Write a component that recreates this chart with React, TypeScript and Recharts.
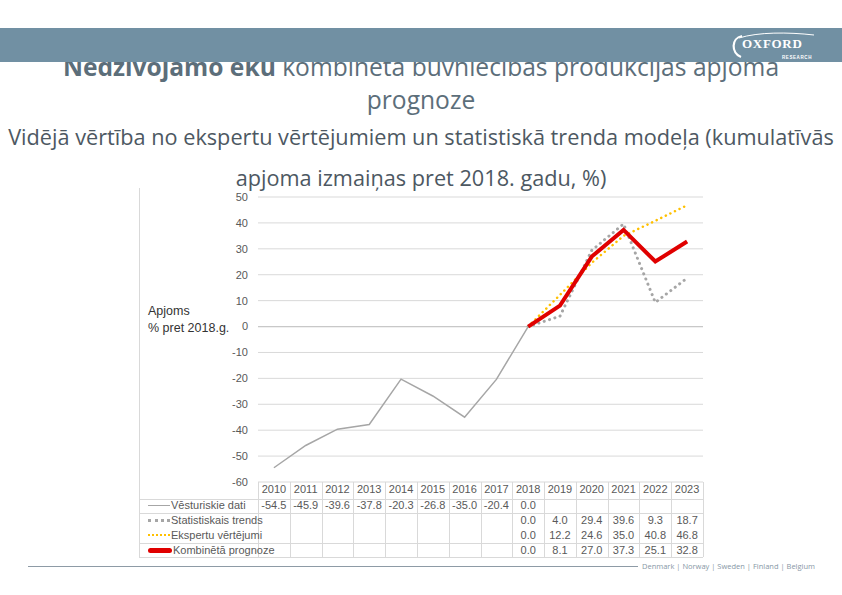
import { CartesianGrid, Line, LineChart, ReferenceLine, XAxis, YAxis } from "recharts";

const years = ["2010", "2011", "2012", "2013", "2014", "2015", "2016", "2017", "2018", "2019", "2020", "2021", "2022", "2023"];
const historical = [-54.5, -45.9, -39.6, -37.8, -20.3, -26.8, -35.0, -20.4, 0.0, null, null, null, null, null];
const statTrend = [null, null, null, null, null, null, null, null, 0.0, 4.0, 29.4, 39.6, 9.3, 18.7];
const expert = [null, null, null, null, null, null, null, null, 0.0, 12.2, 24.6, 35.0, 40.8, 46.8];
const combined = [null, null, null, null, null, null, null, null, 0.0, 8.1, 27.0, 37.3, 25.1, 32.8];
const yTicks = [-60, -50, -40, -30, -20, -10, 0, 10, 20, 30, 40, 50];
const seriesNames = ["Vēsturiskie dati", "Statistiskais trends", "Ekspertu vērtējumi", "Kombinētā prognoze"];
const countries = ["Denmark", "Norway", "Sweden", "Finland", "Belgium"];

const data = years.map((year, i) => ({
  year,
  historical: historical[i],
  statTrend: statTrend[i],
  expert: expert[i],
  combined: combined[i],
}));

// plot geometry (page coordinates)
const PLOT_LEFT = 258;
const PLOT_RIGHT = 703;
const PLOT_TOP = 197;
const PLOT_BOTTOM = 482;
const COL_W = (PLOT_RIGHT - PLOT_LEFT) / years.length;
const CHART_TOP = 180;
const CHART_H = 320;
const AXIS_W = 40;

const GRID = "#d9d9d9";
const TEXT = "#595959";
const ARIAL = "'Liberation Sans', Arial, sans-serif";
const HUMANIST = "'Open Sans', 'Noto Sans', sans-serif";

const rows = [
  { name: seriesNames[0], values: historical, swatch: { borderTop: "1.5px solid #a6a6a6", width: 22 } },
  { name: seriesNames[1], values: statTrend, swatch: { borderTop: "3px dotted #a6a6a6", width: 22 } },
  { name: seriesNames[2], values: expert, swatch: { borderTop: "2px dotted #ffc000", width: 22 } },
  { name: seriesNames[3], values: combined, swatch: { borderTop: "5px solid #e00000", width: 24, borderRadius: 3 } },
];
const rowCenters = [505, 520, 535, 550];
const hLines = [499, 513, 543, 557];

function DataTable() {
  return (
    <>
      {/* frame + row lines */}
      <div style={{ position: "absolute", left: 139, top: 188, width: 1, height: 369, background: GRID }} />
      {hLines.map((y) => (
        <div key={y} style={{ position: "absolute", left: 139, top: y, width: PLOT_RIGHT - 139, height: 1, background: GRID }} />
      ))}
      {years.map((_, i) => (
        <div
          key={"v" + i}
          style={{ position: "absolute", left: PLOT_LEFT + i * COL_W, top: PLOT_BOTTOM, width: 1, height: 557 - PLOT_BOTTOM, background: GRID }}
        />
      ))}
      <div style={{ position: "absolute", left: PLOT_RIGHT, top: PLOT_BOTTOM, width: 1, height: 557 - PLOT_BOTTOM, background: GRID }} />
      {years.map((y, i) => (
        <div
          key={y}
          style={{
            position: "absolute",
            left: PLOT_LEFT + i * COL_W,
            width: COL_W,
            top: 489 - 7,
            lineHeight: "14px",
            textAlign: "center",
            fontSize: 11,
            color: TEXT,
            fontFamily: ARIAL,
          }}
        >
          {y}
        </div>
      ))}
      {rows.map((row, r) => (
        <div key={row.name}>
          <div
            style={{
              position: "absolute",
              left: 148,
              top: rowCenters[r] - 7,
              height: 14,
              display: "flex",
              alignItems: "center",
              fontSize: 11,
              color: TEXT,
              fontFamily: ARIAL,
              whiteSpace: "nowrap",
            }}
          >
            <span style={{ display: "inline-block", height: 0, marginRight: 1, ...row.swatch }} />
            <span>{row.name}</span>
          </div>
          {row.values.map((v, i) =>
            v === null ? null : (
              <div
                key={i}
                style={{
                  position: "absolute",
                  left: PLOT_LEFT + i * COL_W,
                  width: COL_W,
                  top: rowCenters[r] - 7,
                  lineHeight: "14px",
                  textAlign: "center",
                  fontSize: 11,
                  color: TEXT,
                  fontFamily: ARIAL,
                }}
              >
                {v.toFixed(1)}
              </div>
            )
          )}
        </div>
      ))}
    </>
  );
}

function Logo() {
  return (
    <svg width={90} height={32} style={{ position: "absolute", left: 728, top: 2 }}>
      <path d="M14 6 C3 8 3 23 13 27" stroke="#fff" strokeWidth={2.2} fill="none" />
      <path d="M11 8 C30 2 60 2 86 5" stroke="#fff" strokeWidth={1} fill="none" />
      <text x={14} y={18} fill="#fff" fontSize={13} fontWeight={700} fontFamily="'Liberation Serif', 'DejaVu Serif', serif" letterSpacing={0.7}>
        OXFORD
      </text>
      <text x={84} y={29} fill="#fff" fontSize={4.5} fontWeight={700} textAnchor="end" fontFamily={ARIAL} letterSpacing={0.6}>
        RESEARCH
      </text>
    </svg>
  );
}

export default function App() {
  return (
    <div style={{ position: "absolute", left: 0, top: 0, width: 842, height: 595, background: "#fff", overflow: "hidden" }}>
      {/* title sits partly under the header bar */}
      <div
        style={{
          position: "absolute",
          left: 0,
          width: 842,
          top: 50,
          textAlign: "center",
          fontFamily: HUMANIST,
          fontSize: 24.6,
          lineHeight: "33px",
          color: "#5c6e7a",
          zIndex: 1,
          whiteSpace: "nowrap",
        }}
      >
        <div>
          <b>Nedzīvojamo ēku</b> kombinētā būvniecības produkcijas apjoma
        </div>
        <div>prognoze</div>
      </div>
      <div
        style={{
          position: "absolute",
          left: 0,
          width: 842,
          top: 116,
          textAlign: "center",
          fontFamily: HUMANIST,
          fontSize: 21.7,
          lineHeight: "41px",
          color: "#4d5862",
          zIndex: 1,
          whiteSpace: "nowrap",
        }}
      >
        <div>Vidējā vērtība no ekspertu vērtējumiem un statistiskā trenda modeļa (kumulatīvās</div>
        <div>apjoma izmaiņas pret 2018. gadu, %)</div>
      </div>
      <div style={{ position: "absolute", left: 0, top: 28, width: 842, height: 34, background: "#7190a3", zIndex: 2 }}>
        <Logo />
      </div>

      <div style={{ position: "absolute", left: 148, top: 303, fontFamily: ARIAL, fontSize: 12.5, lineHeight: "17px", color: "#333" }}>
        <div>Apjoms</div>
        <div>% pret 2018.g.</div>
      </div>

      <div style={{ position: "absolute", left: 0, top: CHART_TOP }}>
        <LineChart
          width={842}
          height={CHART_H}
          data={data}
          margin={{
            top: PLOT_TOP - CHART_TOP,
            bottom: CHART_TOP + CHART_H - PLOT_BOTTOM,
            left: PLOT_LEFT - AXIS_W,
            right: 842 - PLOT_RIGHT,
          }}
        >
          <CartesianGrid vertical={false} stroke={GRID} strokeWidth={1} />
          <XAxis dataKey="year" hide padding={{ left: COL_W / 2, right: COL_W / 2 }} />
          <YAxis
            width={AXIS_W}
            domain={[-60, 50]}
            ticks={yTicks}
            interval={0}
            axisLine={false}
            tickLine={false}
            tickMargin={4}
            tick={{ fontSize: 11, fill: TEXT, fontFamily: ARIAL }}
          />
          <ReferenceLine y={0} stroke="#c8c8c8" strokeWidth={1.2} />
          <Line dataKey="historical" stroke="#a6a6a6" strokeWidth={1.5} dot={false} isAnimationActive={false} />
          <Line
            dataKey="expert"
            stroke="#ffc000"
            strokeWidth={2.5}
            strokeDasharray="0.1 5"
            strokeLinecap="round"
            dot={false}
            isAnimationActive={false}
          />
          <Line
            dataKey="statTrend"
            stroke="#a6a6a6"
            strokeWidth={3}
            strokeDasharray="0.1 5.5"
            strokeLinecap="round"
            dot={false}
            isAnimationActive={false}
          />
          <Line dataKey="combined" stroke="#e00000" strokeWidth={4} dot={false} isAnimationActive={false} />
        </LineChart>
      </div>

      <DataTable />

      <div style={{ position: "absolute", left: 28, top: 566, width: 610, height: 1, background: "#8e9ba6" }} />
      <div
        style={{
          position: "absolute",
          left: 642,
          top: 560,
          fontFamily: HUMANIST,
          fontSize: 7.5,
          lineHeight: "12px",
          color: "#8797a6",
          whiteSpace: "nowrap",
        }}
      >
        {countries.join(" | ")}
      </div>
    </div>
  );
}
